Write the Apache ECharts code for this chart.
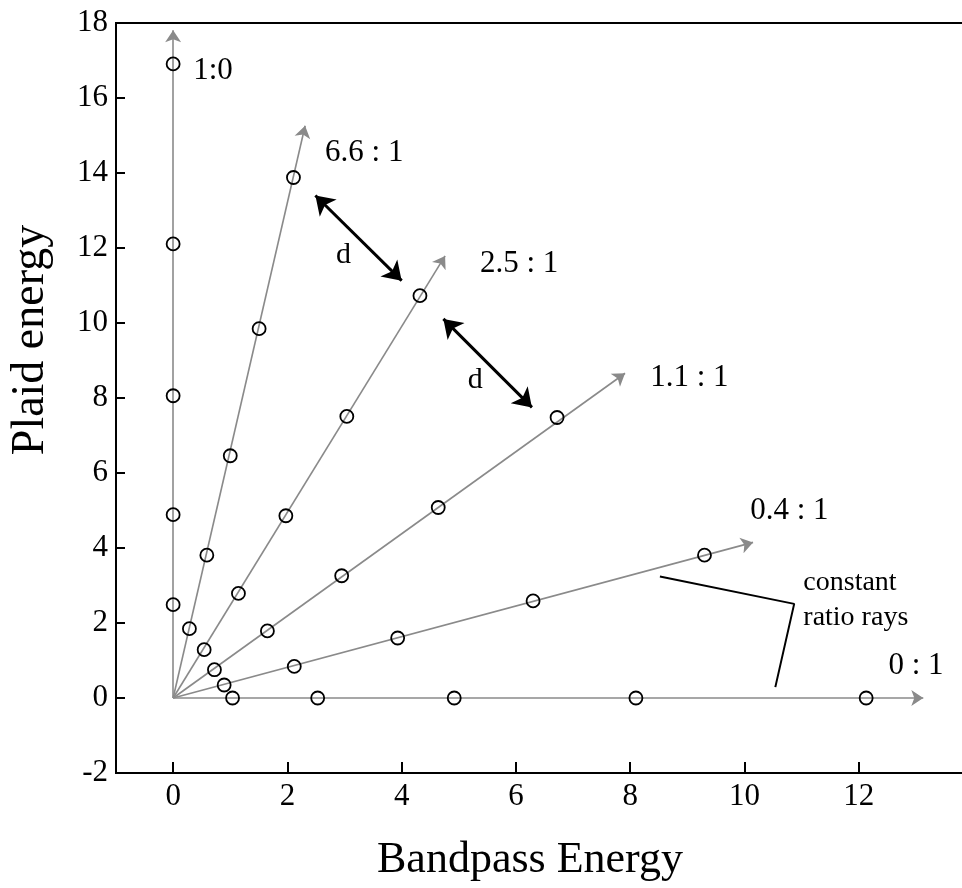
<!DOCTYPE html>
<html>
<head>
<meta charset="utf-8">
<script src="https://cdn.jsdelivr.net/npm/echarts@6/dist/echarts.min.js"></script>
<style>
  html, body { margin: 0; padding: 0; background: #fff; overflow: hidden; }
  /* the plot frame runs past the right edge of the window, so the canvas is a little wider than the page */
  #chart { width: 980px; height: 888px; }
</style>
</head>
<body>
<div id="chart"></div>
<script>
// Axis ticks
const xTickValues = [0, 2, 4, 6, 8, 10, 12];
const yTickValues = [-2, 0, 2, 4, 6, 8, 10, 12, 14, 16, 18];

// Ray names (plaid : bandpass ratio)
const rayNames = ['1:0', '6.6 : 1', '2.5 : 1', '1.1 : 1', '0.4 : 1', '0 : 1'];

// Measured points on each constant-ratio ray: [bandpass, plaid]
const ray10 = [[0, 2.49], [0, 4.89], [0, 8.06], [0, 12.11], [0, 16.91]];
const ray66 = [[0.285, 1.85], [0.59, 3.81], [1.00, 6.46], [1.505, 9.85], [2.106, 13.88]];
const ray25 = [[0.543, 1.29], [1.143, 2.79], [1.973, 4.86], [3.04, 7.51], [4.32, 10.73]];
const ray11 = [[0.723, 0.755], [1.65, 1.79], [2.95, 3.26], [4.64, 5.08], [6.72, 7.48]];
const ray04 = [[0.893, 0.347], [2.12, 0.843], [3.93, 1.60], [6.30, 2.59], [9.30, 3.81]];
const ray01 = [[1.04, 0], [2.53, 0], [4.92, 0], [8.10, 0], [12.13, 0]];

// Where each ray's arrow ends
const rayTips = [[0, 17.81], [2.31, 15.26], [4.76, 11.79], [7.91, 8.66], [10.15, 4.15], [13.13, 0]];

// Where each ray's name is written (left edge, vertical centre)
const rayLabelPos = [[0.35, 16.73], [2.66, 14.54], [5.37, 11.58], [8.35, 8.55], [10.10, 4.99], [12.52, 0.86]];

// The two "d" distance arrows and their letters
const dArrows = [[[2.49, 13.40], [4.00, 11.13]], [[4.73, 10.11], [6.28, 7.75]]];
const dLabelPos = [[2.98, 11.8], [5.29, 8.47]];

// Callout for the ray caption
const calloutPath = [[8.52, 3.24], [10.87, 2.51], [10.54, 0.29]];
const calloutText = ['constant', 'ratio rays'];
const calloutTextPos = [[11.03, 3.07], [11.03, 2.14]];

const rayPoints = [ray10, ray66, ray25, ray11, ray04, ray01];

const numFont = "'Liberation Serif', 'DejaVu Serif', serif";
const serif = "'Liberation Serif', 'DejaVu Serif', serif";
const rayGray = '#8a8a8a';

// Text anchored exactly at a data point
function textSeries(points, names, align, size) {
  return {
    type: 'scatter',
    silent: true,
    symbolSize: 0,
    itemStyle: { opacity: 1 },
    data: points.map((p, i) => ({ value: p, name: names[i] })),
    label: {
      show: true, position: [0, 0], align: align, verticalAlign: 'middle',
      formatter: '{b}', color: '#000', opacity: 1, textBorderWidth: 0,
      fontFamily: serif, fontSize: size
    },
    z: 5
  };
}

const series = [];

// Rays from the origin with arrowheads
series.push({
  type: 'lines',
  coordinateSystem: 'cartesian2d',
  silent: true,
  symbol: ['none', 'arrow'],
  symbolSize: 12,
  lineStyle: { color: rayGray, width: 1.6, opacity: 1 },
  data: rayTips.map(t => ({ coords: [[0, 0], t] })),
  z: 2
});

// Points on the rays
rayPoints.forEach((pts, i) => {
  series.push({
    type: 'scatter',
    name: rayNames[i],
    data: pts,
    symbol: 'circle',
    symbolSize: 13,
    itemStyle: { color: 'rgba(255,255,255,0)', borderColor: '#000', borderWidth: 1.8, opacity: 1 },
    z: 4
  });
});

// Ray names
series.push(textSeries(rayLabelPos, rayNames, 'left', 31));

// Double-headed distance arrows
series.push({
  type: 'lines',
  coordinateSystem: 'cartesian2d',
  silent: true,
  symbol: ['arrow', 'arrow'],
  symbolSize: 18,
  lineStyle: { color: '#000', width: 3, opacity: 1 },
  data: dArrows.map(a => ({ coords: a })),
  z: 5
});

// "d" letters
series.push(textSeries(dLabelPos, ['d', 'd'], 'center', 30));

// Callout line
series.push({
  type: 'line',
  silent: true,
  data: calloutPath,
  symbol: 'none',
  lineStyle: { color: '#000', width: 2 },
  z: 5
});

// Callout caption
series.push(textSeries(calloutTextPos, calloutText, 'left', 28));

const chart = echarts.init(document.getElementById('chart'), null, { renderer: 'canvas' });
chart.setOption({
  animation: false,
  backgroundColor: '#fff',
  grid: {
    left: 116, width: 857, top: 23, bottom: 115,
    show: true, borderColor: '#000', borderWidth: 2, backgroundColor: 'transparent'
  },
  xAxis: {
    type: 'value',
    min: -1, max: 14,
    axisLine: { show: true, onZero: false, lineStyle: { color: '#000', width: 2 } },
    axisTick: { show: true, inside: true, length: 11, customValues: xTickValues, lineStyle: { color: '#000', width: 2 } },
    axisLabel: { show: true, customValues: xTickValues, margin: 8, color: '#000', fontFamily: numFont, fontSize: 31 },
    splitLine: { show: false }
  },
  yAxis: {
    type: 'value',
    min: -2, max: 18, interval: 2,
    axisLine: { show: true, onZero: false, lineStyle: { color: '#000', width: 2 } },
    axisTick: { show: true, inside: true, length: 9, lineStyle: { color: '#000', width: 2 } },
    axisLabel: { show: true, margin: 8, color: '#000', fontFamily: numFont, fontSize: 31 },
    splitLine: { show: false }
  },
  graphic: [
    {
      type: 'text', left: 377, top: 838,
      style: { text: 'Bandpass Energy', fill: '#000', font: "44px 'Liberation Serif', serif" }
    },
    {
      type: 'text', x: 31, y: 340, rotation: Math.PI / 2,
      style: { text: 'Plaid energy', fill: '#000', font: "46px 'Liberation Serif', serif", align: 'center', verticalAlign: 'middle' }
    }
  ],
  series: series
});
</script>
</body>
</html>
